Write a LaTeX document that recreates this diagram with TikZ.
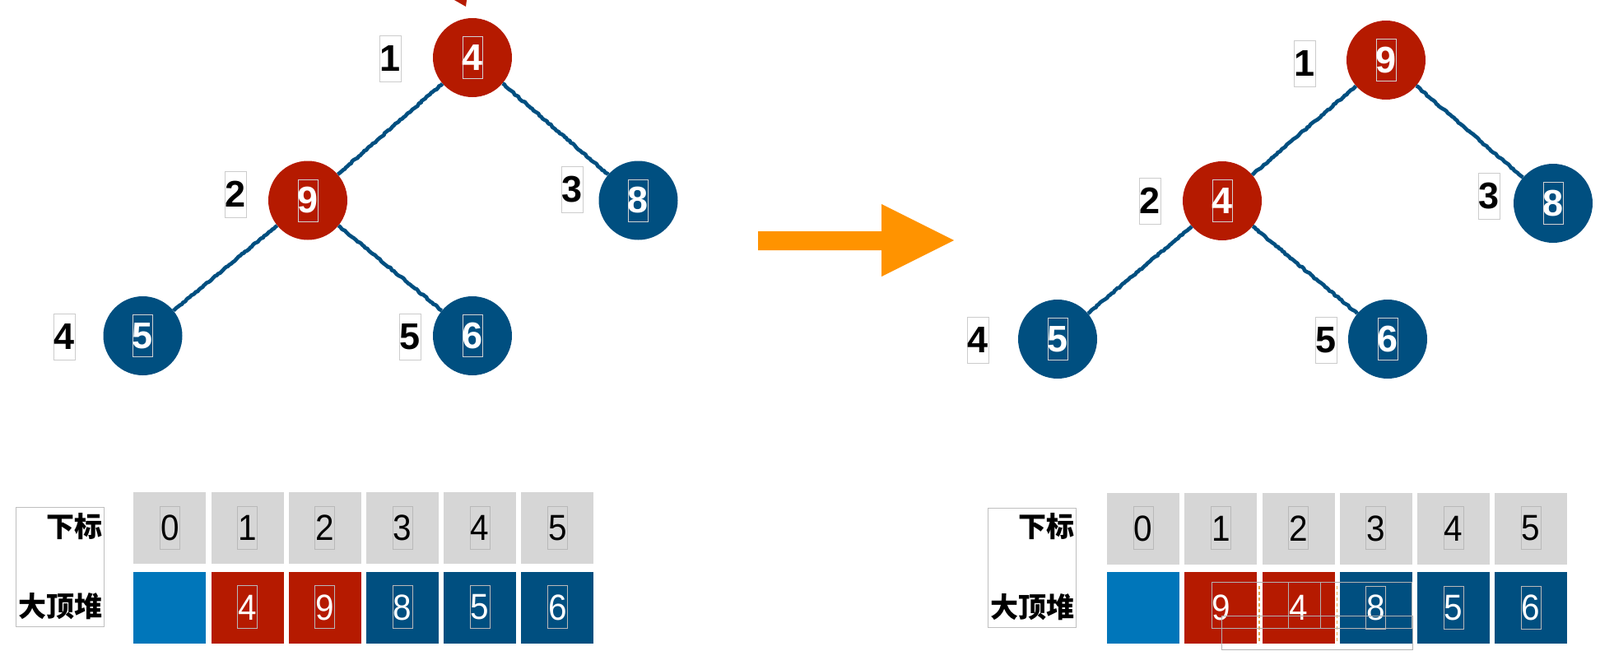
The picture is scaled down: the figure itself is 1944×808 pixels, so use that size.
\documentclass[tikz,border=0pt]{standalone}
\usepackage{fontspec}
\setmainfont{Liberation Sans}
\newfontfamily\tabfont[FakeStretch=0.92]{Liberation Sans}
\newfontfamily\cjk{Noto Sans CJK SC}
\usetikzlibrary{decorations.pathmorphing}
\definecolor{hred}{HTML}{B51A00}
\definecolor{hblue}{HTML}{004F80}
\definecolor{lblue}{HTML}{0076BA}
\definecolor{hgray}{HTML}{D6D6D6}
\definecolor{horange}{HTML}{FF9300}
\definecolor{dashorange}{HTML}{E8A64A}
\begin{document}
\begin{tikzpicture}[x=1pt,y=-1pt,
  heapnode/.style={circle, fill=#1, minimum size=96pt, inner sep=0pt, text=white,
    font=\fontsize{45}{45}\selectfont\bfseries,
    path picture={\draw[white!65!gray, line width=0.8pt] ([shift={(-12pt,-25.5pt)}]path picture bounding box.center) rectangle ++(24pt,51pt);}},
  idxlabel/.style={draw=gray!40, line width=0.8pt, fill=white, minimum width=26pt, minimum height=56pt, inner sep=0pt,
    font=\fontsize{45}{45}\selectfont\bfseries},
  edge/.style={draw=hblue, line width=4.6pt, line join=round, decorate, decoration={random steps, segment length=2.5pt, amplitude=0.8pt}},
  cell/.style={rectangle, fill=#1, minimum width=88pt, minimum height=87pt, inner sep=0pt,
    font=\tabfont\fontsize{44}{44}\selectfont},
  boxed/.style={path picture={\draw[gray!55, line width=0.8pt] ([shift={(-12pt,-25.5pt)}]path picture bounding box.center) rectangle ++(24pt,52pt);}},
  topcell/.style={cell=hgray, text=black, boxed},
  botcell/.style={cell=#1, text=white},
  labbox/.style={draw=gray!50, line width=0.8pt, minimum width=107pt, minimum height=145pt, inner sep=0pt},
  cjktext/.style={font=\cjk\bfseries\fontsize{34}{34}\selectfont, inner sep=0pt, anchor=east},
  overlay/.style={draw=gray!60, line width=0.8pt}
]
\useasboundingbox (0,0) rectangle (1944,808);

% partial red arrow tip at top
\fill[hred] (552,0) -- (567,0) -- (566,8) -- cycle;

% ---------- left tree ----------
\node[heapnode=hred] (L1) at (574,70) {4};
\node[heapnode=hred] (L2) at (374,243.5) {9};
\node[heapnode=hblue] (L3) at (775.5,243.5) {8};
\node[heapnode=hblue] (L4) at (173.5,408) {5};
\node[heapnode=hblue] (L5) at (574,408) {6};
\draw[edge] (L1) -- (L2);
\draw[edge] (L1) -- (L3);
\draw[edge] (L2) -- (L4);
\draw[edge] (L2) -- (L5);
\node[idxlabel] (LI1) at (474,71) {1};
\node[idxlabel] (LI2) at (286,236) {2};
\node[idxlabel] (LI3) at (695.5,230) {3};
\node[idxlabel] (LI4) at (78,409) {4};
\node[idxlabel] (LI5) at (498,409) {5};

% ---------- right tree ----------
\node[heapnode=hred] (R1) at (1684,73) {9};
\node[heapnode=hred] (R2) at (1485,244) {4};
\node[heapnode=hblue] (R3) at (1887,247) {8};
\node[heapnode=hblue] (R4) at (1285,412) {5};
\node[heapnode=hblue] (R5) at (1686,412) {6};
\draw[edge] (R1) -- (R2);
\draw[edge] (R1) -- (R3);
\draw[edge] (R2) -- (R4);
\draw[edge] (R2) -- (R5);
\node[idxlabel] (RI1) at (1585,77) {1};
\node[idxlabel] (RI2) at (1397,244) {2};
\node[idxlabel] (RI3) at (1809,238) {3};
\node[idxlabel] (RI4) at (1188,413) {4};
\node[idxlabel] (RI5) at (1611,413) {5};

% ---------- orange arrow ----------
\fill[horange] (921,281) -- (1071,281) -- (1071,248) -- (1159,292) -- (1071,336) -- (1071,304) -- (921,304) -- cycle;

% ---------- left table ----------
\node[labbox] (LLab) at (72.5,689) {};
\node[cjktext] (LLabA) at (124.5,639.5) {下标};
\node[cjktext] (LLabB) at (124.5,737) {大顶堆};
\foreach \i in {0,...,5} {
  \node[topcell] (LT\i) at (206.4+94.2*\i,641.5) {\i};
}
\node[botcell=lblue] (LB0) at (206.4,738) {};
\node[botcell=hred, boxed] (LB1) at (300.6,738) {4};
\node[botcell=hred, boxed] (LB2) at (394.8,738) {9};
\node[botcell=hblue, boxed] (LB3) at (489.0,738) {8};
\node[botcell=hblue, boxed] (LB4) at (583.2,738) {5};
\node[botcell=hblue, boxed] (LB5) at (677.4,738) {6};

% ---------- right table ----------
\node[labbox] (RLab) at (1253.5,690) {};
\node[cjktext] (RLabA) at (1305.5,640) {下标};
\node[cjktext] (RLabB) at (1305.5,737.5) {大顶堆};
\foreach \i in {0,...,5} {
  \node[topcell] (RT\i) at (1389.2+94.2*\i,642) {\i};
}
\node[botcell=lblue] (RB0) at (1389.2,738.5) {};
\node[botcell=hred] (RB1) at (1483.4,738.5) {9};
\node[botcell=hred] (RB2) at (1577.6,738.5) {4};
\node[botcell=hblue, boxed] (RB3) at (1671.8,738.5) {8};
\node[botcell=hblue, boxed] (RB4) at (1766.0,738.5) {5};
\node[botcell=hblue, boxed] (RB5) at (1860.2,738.5) {6};
% leftover dashed marks and outline boxes
\draw[dashorange, line width=1.6pt, dash pattern=on 4pt off 3pt] (1530,712) -- (1530,782);
\draw[dashorange, line width=1.6pt, dash pattern=on 4pt off 3pt] (1624.5,712) -- (1624.5,782);
\draw[overlay] (1472,707) rectangle (1715,763);
\draw[overlay] (1484,748) rectangle (1716,789);
\draw[overlay] (1565,707) -- (1565,763);
\draw[overlay] (1604,707) -- (1604,763);
\end{tikzpicture}
\end{document}
